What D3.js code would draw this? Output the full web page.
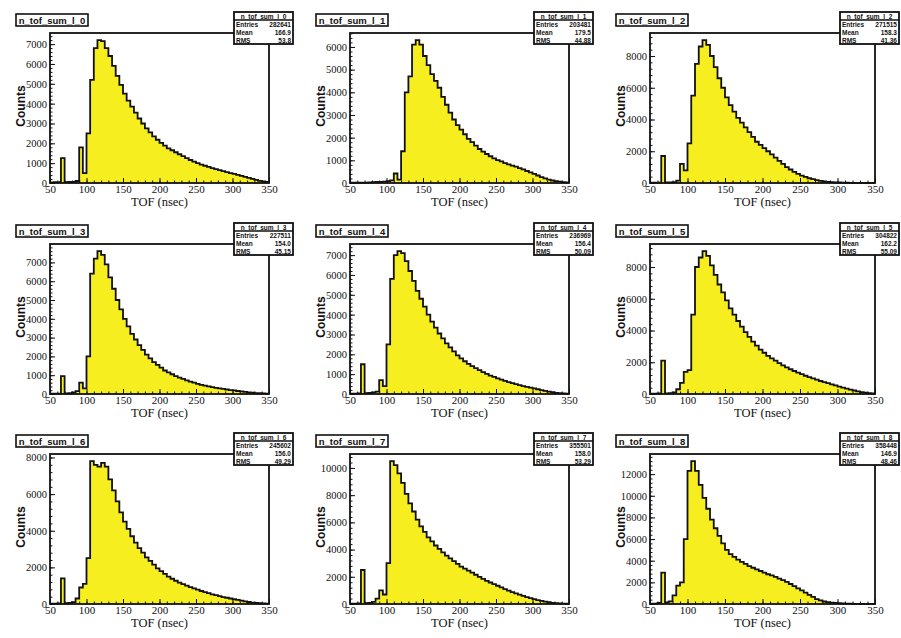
<!DOCTYPE html>
<html><head><meta charset="utf-8">
<script src="https://cdn.jsdelivr.net/npm/d3@7"></script>
<style>body{margin:0;background:#fff}svg{display:block}</style></head>
<body><svg id="c" width="901" height="638"></svg>
<script>
const binEdges = [50,55,60,65,70,75,80,85,90,95,100,105,110,115,120,125,130,135,140,145,150,155,160,165,170,175,180,185,190,195,200,205,210,215,220,225,230,235,240,245,250,255,260,265,270,275,280,285,290,295,300,305,310,315,320,325,330,335,340,345];
const xMax = 350;
const panelNames = ["n_tof_sum_l_0","n_tof_sum_l_1","n_tof_sum_l_2","n_tof_sum_l_3","n_tof_sum_l_4","n_tof_sum_l_5","n_tof_sum_l_6","n_tof_sum_l_7","n_tof_sum_l_8"];
const counts0 = [30,40,40,1250,40,50,60,100,1800,500,2500,5200,6800,7200,7150,6800,6400,5900,5400,4950,4500,4150,3850,3550,3250,3000,2750,2550,2350,2180,2020,1880,1750,1650,1550,1450,1350,1250,1160,1080,1000,930,870,810,750,700,650,600,550,500,460,410,360,310,260,210,160,110,80,50];
const counts1 = [10,10,10,20,20,30,40,50,50,60,80,120,420,150,1400,4000,4700,6100,6300,6100,5600,5200,4800,4500,4200,3800,3450,3100,2800,2550,2350,2150,1950,1800,1650,1500,1380,1280,1180,1090,1010,950,880,820,770,720,660,600,530,470,400,330,260,200,150,110,80,60,40,30];
const counts2 = [20,20,20,1700,30,40,60,150,1200,800,2500,5500,7500,8600,9000,8700,8000,7300,6600,6000,5400,4900,4500,4100,3800,3500,3200,2900,2600,2400,2200,2000,1800,1600,1400,1200,1000,850,700,580,470,380,300,240,180,140,100,70,50,40,30,20,15,10,10,5,5,5,5,5];
const counts3 = [20,20,20,950,30,40,80,150,600,300,2000,6400,7200,7600,7400,6900,6200,5600,5000,4500,4000,3600,3200,2900,2600,2350,2100,1900,1700,1550,1400,1250,1150,1050,950,870,800,730,660,600,540,490,450,410,370,330,300,270,240,210,190,160,140,110,90,70,50,40,30,20];
const counts4 = [20,20,30,1500,40,50,80,120,700,400,2500,5800,7000,7200,7100,6700,6200,5700,5200,4800,4400,4000,3650,3350,3050,2800,2550,2350,2150,1950,1800,1650,1520,1400,1300,1200,1100,1010,930,860,790,720,660,600,550,500,450,400,360,320,280,240,200,160,120,90,60,40,30,20];
const counts5 = [20,20,30,2100,40,60,100,300,700,1400,1500,5000,8000,8600,9000,8700,8100,7500,6900,6400,5900,5400,5000,4600,4250,3900,3600,3300,3050,2800,2600,2400,2250,2100,1950,1800,1680,1560,1450,1350,1250,1150,1060,980,900,820,750,680,610,540,470,400,340,280,220,170,120,80,50,30];
const counts6 = [20,20,30,1400,40,60,100,300,900,1100,2500,7800,7600,7500,7700,7500,6800,6200,5600,5000,4500,4100,3700,3350,3050,2800,2550,2350,2150,1950,1800,1650,1500,1380,1270,1170,1080,1000,920,850,780,710,650,590,530,480,430,380,340,300,260,220,180,140,110,80,60,40,30,20];
const counts7 = [20,20,40,2500,60,80,150,400,1000,700,3000,10500,10200,9600,8900,8100,7400,6800,6200,5700,5300,4900,4600,4300,4050,3800,3550,3350,3150,2950,2750,2600,2450,2300,2150,2000,1850,1700,1580,1460,1340,1220,1100,990,880,780,690,600,510,430,360,290,230,180,130,90,60,40,30,20];
const counts8 = [30,30,100,2900,150,250,800,1700,2000,6000,12300,13200,12300,11000,9800,8800,7800,7000,6300,5600,5000,4600,4350,4100,3900,3700,3500,3350,3200,3050,2900,2750,2650,2500,2350,2200,2050,1850,1650,1450,1250,1050,850,650,450,330,230,170,120,100,80,60,40,30,20,15,10,10,5,5];
const allCounts = [counts0,counts1,counts2,counts3,counts4,counts5,counts6,counts7,counts8];
const entries = ["282641","203481","271515","227511","236969","304822","245602","355501","358448"];
const means = ["166.9","179.5","158.3","154.0","156.4","162.2","156.0","158.0","146.9"];
const rmsVals = ["53.8","44.88","41.36","45.15","50.09","55.09","49.29","53.29","48.46"];
const xTicks = [50,100,150,200,250,300,350];
const yTickSteps = [1000,1000,2000,1000,1000,2000,2000,2000,2000];
const xTitle = "TOF (nsec)";
const yTitle = "Counts";

const svg = d3.select("#c");
svg.append("rect").attr("width",901).attr("height",638).attr("fill","#fff");
const plotLefts = [50,350,650];
const plotWidths = [219,219,225];
const rowTops = [33,244,454];
const plotH = 150;
const serif = "'Liberation Serif','DejaVu Serif',serif";
const sans = "'Liberation Sans',Arial,sans-serif";

allCounts.forEach((counts,i)=>{
  const col = i%3, row = Math.floor(i/3);
  const L = plotLefts[col], T = rowTops[row], W = plotWidths[col];
  const g = svg.append("g").attr("transform",`translate(${L},${T})`);
  const maxV = d3.max(counts);
  const x = d3.scaleLinear().domain([50,xMax]).range([0,W]);
  const y = d3.scaleLinear().domain([0,maxV*1.05]).range([plotH,0]);
  const pts = binEdges.map((e,k)=>({x:e,v:counts[k]}));
  pts.push({x:xMax,v:counts[counts.length-1]});
  const area = d3.area().curve(d3.curveStepAfter).x(d=>x(d.x)).y0(plotH).y1(d=>y(d.v));
  const line = d3.line().curve(d3.curveStepAfter).x(d=>x(d.x)).y(d=>y(d.v));
  g.append("rect").attr("width",W).attr("height",plotH).attr("fill","#fff");
  g.append("path").datum(pts).attr("d",area).attr("fill","#f6ee1e");
  g.append("path").datum(pts).attr("d",line).attr("fill","none").attr("stroke","#111").attr("stroke-width",1.8);
  const step = yTickSteps[i];
  const yt = d3.range(0, maxV*1.05, step);
  const ytMinor = d3.range(0, maxV*1.05, step/5);
  const yAx = g.append("g").call(d3.axisLeft(y).tickValues(yt).tickSize(-5).tickPadding(3).tickFormat(d3.format("d")));
  g.append("g").call(d3.axisLeft(y).tickValues(ytMinor).tickSize(-2.5).tickFormat(""));
  const xAx = g.append("g").attr("transform",`translate(0,${plotH})`).call(d3.axisBottom(x).tickValues(xTicks).tickSize(-5).tickPadding(2).tickFormat(d3.format("d")));
  g.append("g").attr("transform",`translate(0,${plotH})`).call(d3.axisBottom(x).tickValues(d3.range(50,351,10)).tickSize(-2.5).tickFormat(""));
  g.selectAll(".domain").remove();
  g.selectAll(".tick line").attr("stroke","#111").attr("stroke-width",1);
  yAx.selectAll("text").attr("font-family",serif).attr("font-size",10.5).attr("fill","#111");
  xAx.selectAll("text").attr("font-family",serif).attr("font-size",11).attr("fill","#111");
  g.append("rect").attr("width",W).attr("height",plotH).attr("fill","none").attr("stroke","#111").attr("stroke-width",1.8);
  g.append("text").attr("x",W/2).attr("y",plotH+23).attr("text-anchor","middle").attr("font-family",serif).attr("font-size",12.5).attr("fill","#111").text(xTitle);
  g.append("text").attr("transform",`translate(-25,${plotH/2-2}) rotate(-90)`).attr("text-anchor","middle").attr("font-family",sans).attr("font-weight","bold").attr("font-size",12).attr("fill","#111").text(yTitle);
  const tb = g.append("g").attr("transform",`translate(-34,-19)`);
  tb.append("rect").attr("width",72).attr("height",12).attr("fill","#fff").attr("stroke","#111").attr("stroke-width",1.6);
  tb.append("text").attr("x",36).attr("y",9.5).attr("text-anchor","middle").attr("font-family",sans).attr("font-weight","bold").attr("font-size",9.5).attr("fill","#111").text(panelNames[i]);
  const sb = g.append("g").attr("transform",`translate(${W-35},-21)`);
  const sw = 59, sh = 32;
  sb.append("rect").attr("width",sw).attr("height",sh).attr("fill","#fff").attr("stroke","#111").attr("stroke-width",1.8);
  sb.append("line").attr("x1",0).attr("x2",sw).attr("y1",8).attr("y2",8).attr("stroke","#111").attr("stroke-width",1.4);
  sb.append("text").attr("x",sw/2).attr("y",6.5).attr("text-anchor","middle").attr("font-family",sans).attr("font-weight","bold").attr("font-size",6.5).attr("fill","#111").text(panelNames[i]);
  const rows = [["Entries",entries[i]],["Mean",means[i]],["RMS",rmsVals[i]]];
  rows.forEach((r,k)=>{
    sb.append("text").attr("x",2).attr("y",15+k*8).attr("font-family",sans).attr("font-weight","bold").attr("font-size",6.5).attr("fill","#111").text(r[0]);
    sb.append("text").attr("x",sw-2).attr("y",15+k*8).attr("text-anchor","end").attr("font-family",sans).attr("font-weight","bold").attr("font-size",6.5).attr("fill","#111").text(r[1]);
  });
});
</script></body></html>
